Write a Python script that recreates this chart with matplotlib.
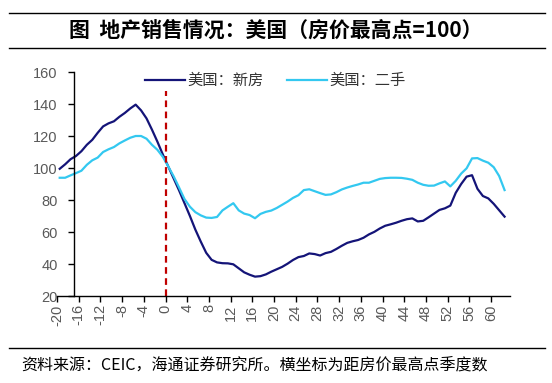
import matplotlib
matplotlib.use("Agg")
import matplotlib.pyplot as plt
from matplotlib.lines import Line2D

plt.rcParams['font.family'] = ['Noto Sans CJK SC', 'DejaVu Sans']
plt.rcParams['axes.unicode_minus'] = False

# ---------------- data ----------------
quarters = list(range(-20, 63))
new_home = [
    99.5, 102.3, 105.5, 107.5, 110.5, 114.5, 117.6, 122.0, 126.0, 127.9,
    129.2, 132.0, 134.4, 137.2, 139.6, 136.0, 131.0, 124.0, 116.5, 108.5,
    101.0, 93.5, 86.0, 78.0, 70.0, 61.5, 54.0, 47.0, 42.6, 41.0,
    40.5, 40.4, 39.8, 37.3, 34.8, 33.3, 32.1, 32.4, 33.5, 35.2,
    36.7, 38.2, 40.2, 42.5, 44.3, 45.0, 46.6, 46.2, 45.3, 46.8,
    47.6, 49.4, 51.4, 53.2, 54.2, 55.0, 56.4, 58.5, 60.1, 62.2,
    63.9, 64.8, 65.8, 67.0, 68.0, 68.5, 66.6, 67.0, 69.2, 71.5,
    73.8, 74.8, 76.5, 84.5, 90.0, 94.6, 95.5, 87.0, 82.5, 81.0,
    77.6, 73.6, 69.6,
]
existing_home = [
    93.9, 93.9, 95.4, 96.8, 98.3, 102.0, 104.8, 106.5, 110.0, 111.7,
    113.1, 115.4, 117.2, 118.9, 120.0, 120.0, 118.3, 114.5, 111.4, 107.0,
    101.0, 94.8, 87.8, 80.6, 75.8, 72.4, 70.4, 69.0, 68.8, 69.4,
    73.5, 75.8, 78.0, 73.5, 71.5, 70.6, 68.6, 71.3, 72.6, 73.4,
    75.0, 77.0, 79.0, 81.3, 83.0, 86.2, 86.7, 85.5, 84.3, 83.2,
    83.5, 84.9, 86.6, 87.8, 88.8, 89.7, 90.8, 90.8, 92.0, 93.2,
    93.7, 93.9, 93.9, 93.8, 93.3, 92.6, 90.8, 89.5, 88.9, 89.0,
    90.4, 91.6, 88.5, 92.0, 96.5, 99.8, 106.0, 106.2, 104.6, 103.3,
    100.5, 95.0, 86.2,
]
series_names = ['美国：新房', '美国：二手']
x_tick_values = list(range(-20, 61, 4))
y_tick_values = list(range(20, 161, 20))
title_text = '图  地产销售情况：美国（房价最高点=100）'
source_text = '资料来源：CEIC，海通证券研究所。横坐标为距房价最高点季度数'

# ---------------- figure ----------------
W, H = 552, 383
fig = plt.figure(figsize=(W / 100, H / 100), dpi=100)
fig.patch.set_facecolor('white')

left, right, top, bottom = 57, 510, 72, 296
ax = fig.add_axes([left / W, 1 - bottom / H, (right - left) / W, (bottom - top) / H])

xs = [q + 0.5 for q in quarters]
navy = '#141478'
cyan = '#33C8F0'
ax.plot(xs, new_home, color=navy, lw=1.6, label=series_names[0], solid_joinstyle='round')
ax.plot(xs, existing_home, color=cyan, lw=1.6, label=series_names[1], solid_joinstyle='round')
ax.axvline(0, ymin=0, ymax=(148 - 20) / 140, color='#C00000', lw=1.6, ls=(0, (3, 2)))

ax.set_xlim(-20, 63.5)
ax.set_ylim(20, 160)

for s in ['top', 'right']:
    ax.spines[s].set_visible(False)
ax.spines['left'].set_position(('data', -16.8))
ax.spines['left'].set_linewidth(1.0)
ax.spines['bottom'].set_linewidth(1.0)

ax.set_xticks(x_tick_values)
ax.set_xticklabels([str(v) for v in x_tick_values], rotation=90)
ax.set_yticks(y_tick_values)
ax.set_yticklabels([str(v) for v in y_tick_values])
ax.tick_params(axis='both', direction='out', length=4, width=1.0,
               labelsize=10.5, labelcolor='#595959')
ax.tick_params(axis='y', pad=8)
ax.tick_params(axis='x', pad=2)
for lbl in ax.get_xticklabels() + ax.get_yticklabels():
    lbl.set_fontfamily(['Liberation Sans', 'DejaVu Sans'])

leg = ax.legend(ncol=2, loc='center', bbox_to_anchor=(275.5 / W, 1 - 80.7 / H),
                bbox_transform=fig.transFigure, frameon=False, fontsize=11,
                handlelength=2.6, handletextpad=0.2, columnspacing=1.5)
for t in leg.get_texts():
    t.set_color('#333333')

# title and frame lines
fig.text(0.5, 1 - 30 / H, title_text, ha='center', va='center',
         fontsize=15, fontweight='bold', color='black')
for yy in (13, 48, 348):
    fig.add_artist(Line2D([9 / W, 545 / W], [1 - yy / H, 1 - yy / H],
                          transform=fig.transFigure, color='black', lw=1.0))
fig.text(21 / W, 1 - 366 / H, source_text, ha='left', va='center',
         fontsize=11.5, color='black')

fig.savefig('out.png', dpi=100, facecolor='white')
